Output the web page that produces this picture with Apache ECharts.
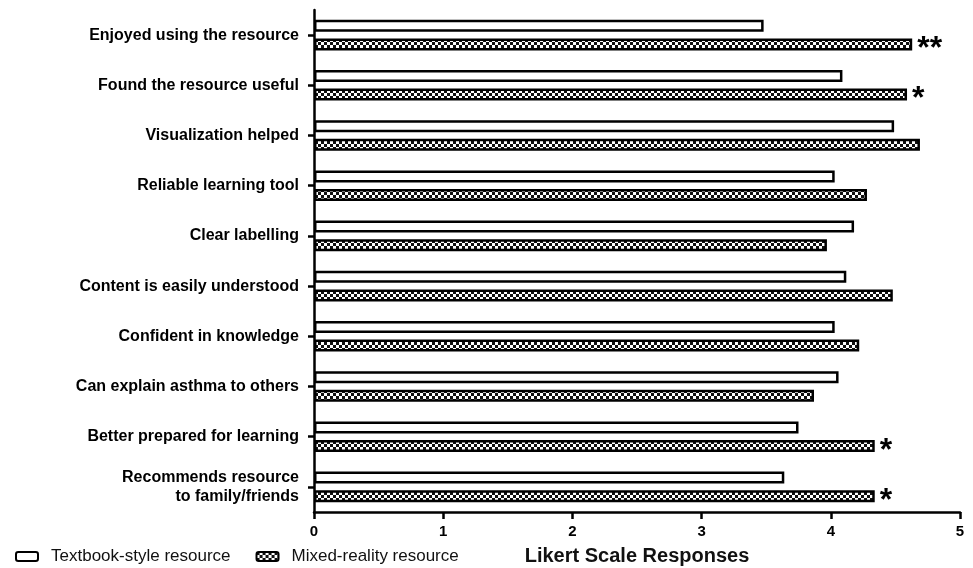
<!DOCTYPE html>
<html>
<head>
<meta charset="utf-8">
<style>
  html, body { margin: 0; padding: 0; background: #fff; }
  #chart { width: 973px; height: 568px; }
</style>
<script src="https://cdn.jsdelivr.net/npm/echarts@6/dist/echarts.min.js"></script>
</head>
<body>
<div id="chart"></div>
<script>
// categories, top to bottom
const categories = [
  'Enjoyed using the resource',
  'Found the resource useful',
  'Visualization helped',
  'Reliable learning tool',
  'Clear labelling',
  'Content is easily understood',
  'Confident in knowledge',
  'Can explain asthma to others',
  'Better prepared for learning',
  'Recommends resource\nto family/friends'
]
const textbookValues = [3.48, 4.09, 4.49, 4.03, 4.18, 4.12, 4.03, 4.06, 3.75, 3.64]
const mixedValues = [4.63, 4.59, 4.69, 4.28, 3.97, 4.48, 4.22, 3.87, 4.34, 4.34]
// significance marks next to the mixed-reality bars
const sigMarks = ['**', '*', '', '', '', '', '', '', '*', '*']
const xTicks = [0, 1, 2, 3, 4, 5]

// checker pattern for the mixed-reality bars
const pat = document.createElement('canvas')
pat.width = 6
pat.height = 6
const pctx = pat.getContext('2d')
pctx.fillStyle = '#fff'
pctx.fillRect(0, 0, 6, 6)
pctx.fillStyle = '#111'
pctx.fillRect(0, 0, 3, 3)
pctx.fillRect(3, 3, 3, 3)

const chart = echarts.init(document.getElementById('chart'))

const option = {
  animation: false,
  textStyle: { fontFamily: 'Liberation Sans, Arial, sans-serif' },
  legend: {
    left: 10,
    top: 543,
    itemWidth: 22,
    itemHeight: 9,
    itemGap: 25,
    textStyle: { fontSize: 17, color: '#111', padding: [0, 0, 0, 8] },
    data: ['Textbook-style resource', 'Mixed-reality resource']
  },
  grid: { left: 314, right: 13, top: 10, height: 502, outerBoundsMode: 'none' },
  xAxis: {
    type: 'value',
    min: xTicks[0],
    max: xTicks[xTicks.length - 1],
    interval: 1,
    name: 'Likert Scale Responses',
    nameLocation: 'middle',
    nameGap: 34,
    nameTextStyle: { fontSize: 20, fontWeight: 'bold', color: '#111' },
    axisLine: { show: true, lineStyle: { color: '#000', width: 2.5 } },
    axisTick: { show: true, length: 7, lineStyle: { color: '#000', width: 2.5 } },
    axisLabel: { fontSize: 15, fontWeight: 'bold', color: '#000', margin: 12 },
    splitLine: { show: false }
  },
  yAxis: {
    type: 'category',
    inverse: true,
    data: categories,
    axisLine: { show: true, lineStyle: { color: '#000', width: 2.5 } },
    axisTick: { show: true, alignWithLabel: true, length: 6, lineStyle: { color: '#000', width: 2.5 } },
    axisLabel: { fontSize: 16, fontWeight: 'bold', color: '#000', margin: 15, lineHeight: 19 }
  },
  series: [
    {
      name: 'Textbook-style resource',
      type: 'bar',
      barWidth: 12,
      barGap: '55%',
      itemStyle: { color: '#fff', borderColor: '#000', borderWidth: 2.5 },
      data: textbookValues
    },
    {
      name: 'Mixed-reality resource',
      type: 'bar',
      barWidth: 12,
      barGap: '55%',
      itemStyle: { color: { image: pat, repeat: 'repeat' }, borderColor: '#000', borderWidth: 2.5 },
      label: {
        show: true,
        position: 'right',
        distance: 5,
        offset: [0, 5],
        fontSize: 32,
        fontWeight: 'bold',
        color: '#000',
        formatter: (p) => sigMarks[p.dataIndex]
      },
      data: mixedValues
    }
  ]
}

chart.setOption(option)
</script>
</body>
</html>
